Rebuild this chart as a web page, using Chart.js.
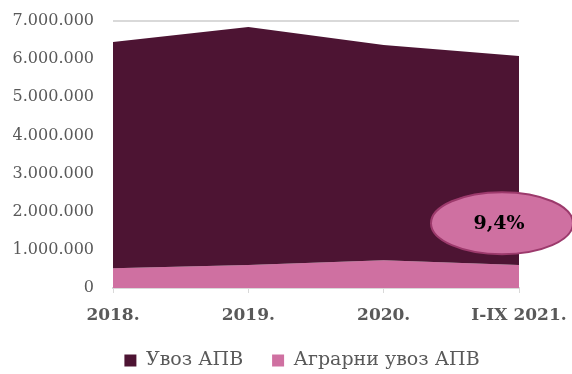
<!DOCTYPE html>
<html>
<head>
<meta charset="utf-8">
<script src="https://cdn.jsdelivr.net/npm/chart.js@4.4.0/dist/chart.umd.min.js"></script>
<style>
  html, body { margin: 0; padding: 0; background: #ffffff; }
  #wrap { width: 572px; height: 374px; }
</style>
</head>
<body>
<div id="wrap"><canvas id="chart" width="572" height="374"></canvas></div>
<script>
const years = ["2018.", "2019.", "2020.", "I-IX 2021."];
const importTotal = [6450000, 6840000, 6370000, 6080000];
const importAgro = [520000, 600000, 730000, 600000];
const shareLabel = "9,4%";

const serif = "'DejaVu Serif', 'Liberation Serif', serif";

// oval with the share of agricultural import
const shareBubble = {
  id: "shareBubble",
  afterLayout(chart) {
    // legend sits a bit right of the canvas centre in the original
    chart.legend.left += 10;
    chart.legend.right += 10;
  },
  afterDatasetsDraw(chart) {
    const ctx = chart.ctx;
    const area = chart.chartArea;
    const cx = area.right - 17;
    const cy = chart.scales.y.getPixelForValue(1700000);
    ctx.save();
    ctx.beginPath();
    ctx.ellipse(cx, cy, 71, 31, 0, 0, Math.PI * 2);
    ctx.fillStyle = "#cf70a1";
    ctx.fill();
    ctx.lineWidth = 2;
    ctx.strokeStyle = "#9c3a6c";
    ctx.stroke();
    ctx.fillStyle = "#000000";
    ctx.font = "bold 19px " + serif;
    ctx.textAlign = "center";
    ctx.textBaseline = "middle";
    ctx.fillText(shareLabel, cx - 3, cy + 1);
    ctx.restore();
  }
};

new Chart(document.getElementById("chart"), {
  type: "line",
  data: {
    labels: years,
    datasets: [
      {
        label: "Увоз АПВ",
        data: importTotal,
        backgroundColor: "#4d1433",
        borderColor: "#4d1433",
        borderWidth: 0,
        fill: "+1",
        pointRadius: 0,
        tension: 0
      },
      {
        label: "Аграрни увоз АПВ",
        data: importAgro,
        backgroundColor: "#cf70a1",
        borderColor: "#cf70a1",
        borderWidth: 0,
        fill: "origin",
        pointRadius: 0,
        tension: 0
      }
    ]
  },
  options: {
    responsive: false,
    animation: false,
    layout: { padding: { left: 12, right: 0, top: 21, bottom: -6 } },
    scales: {
      x: {
        offset: false,
        afterFit: (scale) => {
          scale.paddingLeft = 0;
          scale.paddingRight = 53;
          scale.height = 34;
        },
        grid: {
          drawOnChartArea: false,
          drawTicks: true,
          tickLength: 5,
          color: "#d9d9d9"
        },
        border: { color: "#d9d9d9", width: 2 },
        ticks: {
          color: "#595959",
          font: { family: serif, size: 17, weight: "bold" },
          padding: 12,
          maxRotation: 0
        }
      },
      y: {
        min: 0,
        max: 7000000,
        afterFit: (scale) => {
          scale.width = 101;
          scale.paddingTop = 0;
          scale.paddingBottom = 0;
        },
        ticks: {
          stepSize: 1000000,
          color: "#595959",
          font: { family: serif, size: 16 },
          padding: 19,
          callback: (v) => v === 0 ? "0" : String(v).replace(/\B(?=(\d{3})+(?!\d))/g, ".")
        },
        grid: { color: "#d9d9d9", lineWidth: 2, drawTicks: false },
        border: { display: false }
      }
    },
    plugins: {
      legend: {
        position: "bottom",
        labels: {
          color: "#595959",
          font: { family: serif, size: 19 },
          boxWidth: 12,
          boxHeight: 12,
          padding: 29
        }
      },
      tooltip: { enabled: false }
    }
  },
  plugins: [shareBubble]
});
</script>
</body>
</html>
